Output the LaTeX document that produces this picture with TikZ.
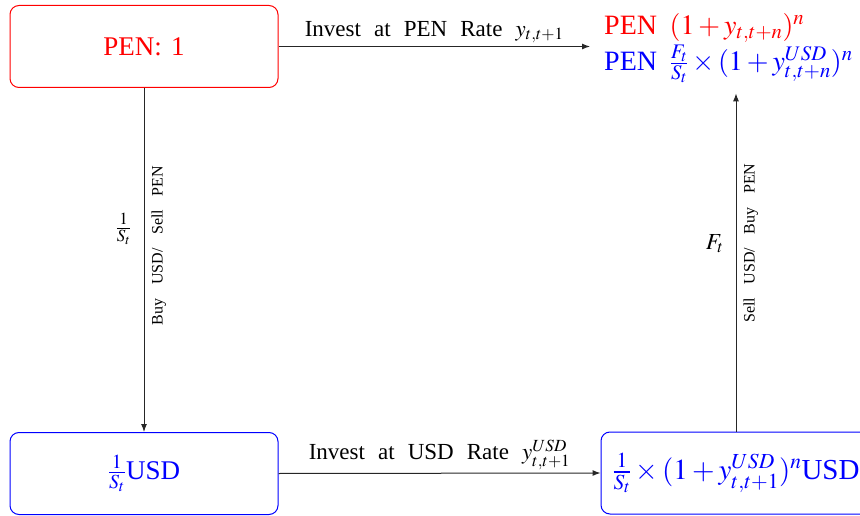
\documentclass[tikz,border=0pt]{standalone}
\usepackage{mathptmx}
\usepackage{fontspec}
\setmainfont{Liberation Serif}
\newcommand\lsp{\hspace{.57em}}
\newcommand\vsp{\hspace{.85em}}
\newcommand\rsp{\hspace{.45em}}
\usetikzlibrary{arrows.meta}
\begin{document}
\begin{tikzpicture}[x=1pt,y=-1pt,
  box/.style={draw, rounded corners=9pt, minimum width=268pt, minimum height=82pt,
    line width=1pt, inner sep=0pt, font=\fontsize{27}{32}\selectfont},
  arr/.style={draw=black!85, line width=1pt, -{Latex[length=8pt,width=6pt]}},
  lab/.style={font=\fontsize{23}{27}\selectfont, inner sep=3pt},
  side/.style={font=\fontsize{23}{27}\selectfont, inner sep=2pt, xshift=-10pt},
  vlab/.style={font=\fontsize{16}{19}\selectfont, rotate=90, anchor=north, inner sep=2pt, yshift=-5pt}]
\useasboundingbox (0,0) rectangle (860,516);
\node[box, draw=red, text=red] (pen) at (144,46.5) {PEN:\hspace{.35em}1};
\node[box, draw=blue, text=blue] (usd) at (144,473.5) {$\frac{1}{S_t}$USD};
\node[box, draw=blue, text=blue, minimum width=270pt, font=\fontsize{29}{34}\selectfont] (fut) at (736,473)
  {$\frac{1}{S_t}\times(1+y^{USD}_{t,t+1})^n$USD};
\node[align=left, anchor=north west, inner xsep=14pt, inner ysep=0pt,
  font=\fontsize{28}{36}\selectfont] (res) at (590,13)
  {\textcolor{red}{PEN\rsp$(1+y_{t,t+n})^n$}\\
   \textcolor{blue}{PEN\rsp$\frac{F_t}{S_t}\times(1+y^{USD}_{t,t+n})^n$}};
\draw[arr] (pen.east) -- (pen.east -| res.west)
  node[lab, midway, above] (l1) {Invest\lsp at\lsp PEN\lsp Rate\lsp$y_{t,t+1}$};
\draw[arr] (usd.east) -- (fut.west)
  node[lab, midway, above] (l2) {Invest\lsp at\lsp USD\lsp Rate\lsp$y^{USD}_{t,t+1}$};
\draw[arr] (pen.south) -- (usd.north)
  node[side, pos=0.41, left] (l3) {$\frac{1}{S_t}$}
  node[vlab, pos=0.458] (l4) {Buy\vsp USD/\vsp Sell\vsp PEN};
\draw[arr] (fut.north) -- ([yshift=-10pt]fut.north |- res.south)
  node[side, pos=0.555, left] (l5) {$F_t$}
  node[vlab, pos=0.557] (l6) {Sell\vsp USD/\vsp Buy\vsp PEN};
\end{tikzpicture}
\end{document}
